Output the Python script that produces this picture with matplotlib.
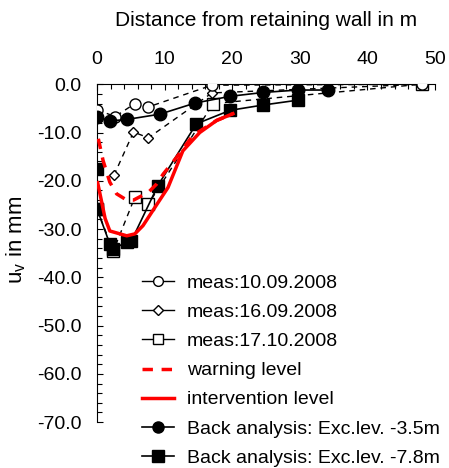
import matplotlib
matplotlib.use("Agg")
import matplotlib.pyplot as plt
from matplotlib.lines import Line2D
from matplotlib.ticker import MultipleLocator, FormatStrFormatter

plt.rcParams['font.family'] = ['Liberation Sans', 'DejaVu Sans']
plt.rcParams['axes.unicode_minus'] = False
plt.rcParams['mathtext.fontset'] = 'custom'
plt.rcParams['mathtext.rm'] = 'Liberation Sans'

# measured settlements
x_m1 = [0, 2.7, 5.6, 7.6, 17.0, 48]
y_m1 = [-5.3, -6.7, -4.0, -4.7, -0.2, 0.0]
x_m2 = [2.5, 5.4, 7.6, 17.0, 48]
y_m2 = [-18.9, -9.9, -11.1, -1.8, 0.0]
x_m3 = [0, 2.4, 5.6, 7.6, 17.2, 48]
y_m3 = [-25.8, -34.6, -23.4, -24.8, -4.0, 0.0]

# alarm levels
x_warn = [0.2, 0.9, 1.9, 2.9, 4.4, 5.4, 7.6, 8.8, 9.8, 11.8, 14.2, 17.7, 20.1]
y_warn = [-11.3, -15.8, -20.3, -22.7, -24.0, -24.0, -22.4, -20.7, -18.6, -15.1, -10.6, -7.5, -6.1]
x_int = [0.1, 1.2, 1.9, 4.4, 5.6, 6.8, 8.9, 10.5, 12.7, 15.2, 17.7, 20.1]
y_int = [-20.4, -27.8, -30.4, -31.4, -31.0, -29.3, -24.8, -21.4, -13.8, -10.0, -7.5, -6.1]

# back analysis
x_b1 = [0, 1.9, 4.4, 9.3, 14.5, 19.7, 24.6, 29.7, 34.2]
y_b1 = [-6.7, -7.6, -7.3, -6.2, -3.9, -2.5, -1.7, -1.2, -1.2]
x_b2 = [0, 0, 1.9, 2.4, 4.4, 5.1, 9.0, 14.7, 19.7, 24.6, 29.7]
y_b2 = [-17.5, -25.8, -33.1, -34.1, -32.7, -32.4, -21.0, -8.2, -5.4, -4.3, -3.3]

labels = ['meas:10.09.2008', 'meas:16.09.2008', 'meas:17.10.2008',
          'warning level', 'intervention level',
          'Back analysis: Exc.lev. -3.5m', 'Back analysis: Exc.lev. -7.8m']

fig = plt.figure(figsize=(4.49, 4.68), dpi=100)
ax = fig.add_axes([0.216, 0.098, 0.753, 0.722])

dash = (0, (4, 3.5))
# later dates first so the first survey sits on top
ax.plot(x_m3, y_m3, color='k', lw=1.0, ls=dash, marker='s', ms=8,
        mfc='white', mec='k', mew=1.0, zorder=3)
ax.plot(x_m2, y_m2, color='k', lw=1.0, ls=dash, marker='D', ms=5.5,
        mfc='white', mec='k', mew=1.0, zorder=3)
ax.plot(x_m1, y_m1, color='k', lw=1.0, ls=dash, marker='o', ms=8,
        mfc='white', mec='k', mew=1.0, zorder=3)
ax.plot(x_b1, y_b1, color='k', lw=1.2, marker='o', ms=9, zorder=4)
ax.plot(x_b2, y_b2, color='k', lw=1.2, marker='s', ms=9, zorder=4)
ax.plot(x_warn, y_warn, color='red', lw=2.5, ls=(0, (3, 2.5)), zorder=5)
ax.plot(x_int, y_int, color='red', lw=2.5, zorder=5)

ax.set_xlim(0, 50)
ax.set_ylim(-70, 0)
ax.xaxis.tick_top()
ax.xaxis.set_label_position('top')
ax.xaxis.set_major_locator(MultipleLocator(10))
ax.xaxis.set_minor_locator(MultipleLocator(2))
ax.yaxis.set_major_locator(MultipleLocator(10))
ax.yaxis.set_minor_locator(MultipleLocator(2))
ax.yaxis.set_major_formatter(FormatStrFormatter('%.1f'))
ax.tick_params(which='both', direction='in', labelsize=14, width=0.8)
ax.tick_params(which='major', length=4.5)
ax.tick_params(which='minor', length=3.5)
ax.tick_params(axis='x', pad=12)
ax.tick_params(axis='y', pad=11)
ax.spines['bottom'].set_visible(False)
ax.spines['right'].set_visible(False)
ax.set_xlabel('Distance from retaining wall in m', fontsize=15, labelpad=18)
ax.set_ylabel(r'u$_\mathregular{v}$ in mm', fontsize=16)
ax.yaxis.set_label_coords(-0.205, 0.54)

handles = [
    Line2D([], [], color='k', lw=1.0, marker='o', ms=7, mfc='white'),
    Line2D([], [], color='k', lw=1.0, marker='D', ms=5, mfc='white'),
    Line2D([], [], color='k', lw=1.0, marker='s', ms=7, mfc='white'),
    Line2D([], [], color='red', lw=2.5, ls=(0, (3, 2.5))),
    Line2D([], [], color='red', lw=2.5),
    Line2D([], [], color='k', lw=1.2, marker='o', ms=8),
    Line2D([], [], color='k', lw=1.2, marker='s', ms=8),
]
fig.legend(handles, labels, loc='lower left', bbox_to_anchor=(0.316, 0.003),
           frameon=False, fontsize=14, handlelength=1.65, handletextpad=0.67,
           labelspacing=0.59, borderpad=0.0, borderaxespad=0.0)

fig.savefig('out.png', dpi=100)
